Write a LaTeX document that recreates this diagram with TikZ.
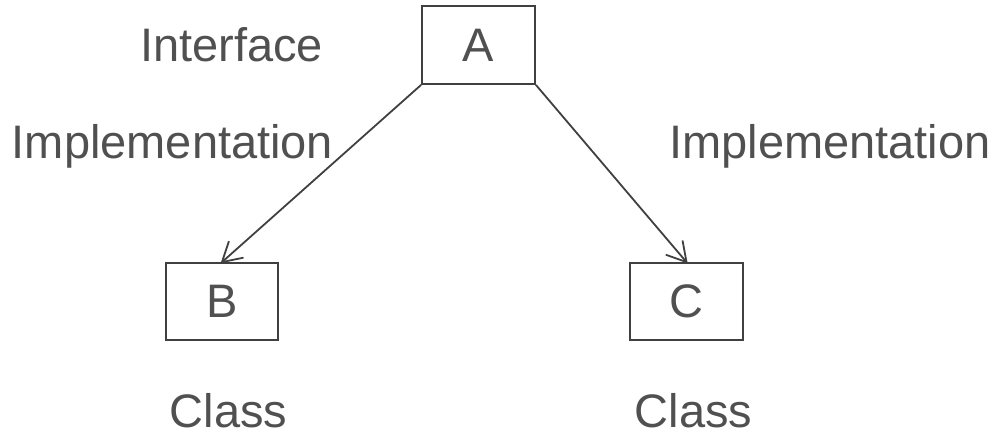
\documentclass[tikz,border=0pt]{standalone}
\usepackage{fontspec}
\setmainfont{Liberation Sans}
\usetikzlibrary{calc}
\definecolor{ink}{HTML}{404040}
\definecolor{txt}{HTML}{505050}
\begin{document}
\begin{tikzpicture}[x=1pt,y=-1pt,
  box/.style={draw=ink,line width=1.8pt,rectangle,inner sep=0pt,
    text=txt,font=\fontsize{47}{50}\selectfont},
  lbl/.style={anchor=base,inner sep=0pt,text=txt,font=\fontsize{47}{50}\selectfont},
  link/.style={draw=ink,line width=1.8pt},
  barb/.style={draw=ink,line width=1.8pt,line join=miter}]
  \useasboundingbox (0,0) rectangle (998,436);
  % classes and interface boxes
  \node[box,minimum width=113pt,minimum height=78pt] (A) at (478.5,45) {A};
  \node[box,minimum width=112pt,minimum height=77pt] (B) at (222,301.5) {B};
  \node[box,minimum width=113pt,minimum height=77pt] (C) at (686.5,301.5) {C};
  % labels
  \node[lbl] (iface) at (231.5,62) {Interface};
  \node[lbl] (implL) at (172.5,158) {Implementation};
  \node[lbl] (implR) at (830,158) {Implementation};
  \node[lbl] (clsB) at (228.5,427) {Class};
  \node[lbl] (clsC) at (693.5,427) {Class};
  % implementation arrows with open V heads
  \draw[link] (A.south west) -- (B.north);
  \draw[barb] ($(B.north)!22pt!30:(A.south west)$) -- (B.north)
              -- ($(B.north)!22pt!-30:(A.south west)$);
  \draw[link] (A.south east) -- (C.north);
  \draw[barb] ($(C.north)!22pt!30:(A.south east)$) -- (C.north)
              -- ($(C.north)!22pt!-30:(A.south east)$);
\end{tikzpicture}
\end{document}
